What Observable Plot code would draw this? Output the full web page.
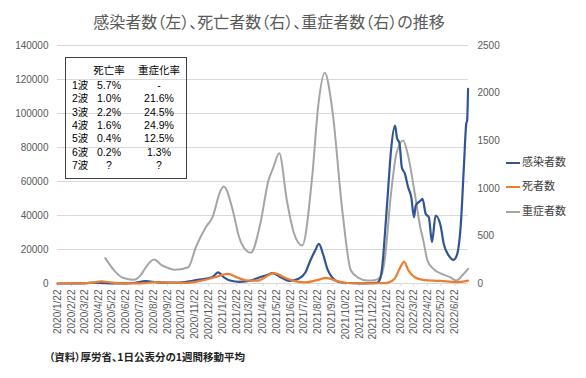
<!DOCTYPE html>
<html><head><meta charset="utf-8">
<script src="https://cdn.jsdelivr.net/npm/d3@7"></script>
<script src="https://cdn.jsdelivr.net/npm/@observablehq/plot@0.6"></script>
<style>
body{margin:0;background:#fff;}
#wrap{position:relative;width:586px;height:378px;overflow:hidden;font-family:"Noto Sans CJK JP","Liberation Sans",sans-serif;}
#title{position:absolute;left:8px;top:0;width:522px;height:42px;line-height:42px;text-align:center;font-size:16px;color:#595959;font-feature-settings:"palt";}
#chart{position:absolute;left:0;top:34px;}
#caption{position:absolute;left:49px;top:349px;font-size:10.5px;line-height:16px;color:#222;font-weight:bold;font-feature-settings:"palt";}
#table{position:absolute;left:65px;top:57px;width:120px;height:120px;border:1px solid #404040;font-family:"Liberation Sans","Noto Sans CJK JP",sans-serif;font-size:10.5px;color:#000;}
#table div{position:absolute;white-space:nowrap;line-height:11px;height:11px;overflow:visible;}
#legend{position:absolute;left:506px;top:0;font-size:11px;color:#404040;}
#legend .item{position:absolute;left:0;white-space:nowrap;line-height:14px;height:14px;}
#legend .sw{display:inline-block;width:14px;vertical-align:middle;margin-right:2px;}
</style></head>
<body>
<div id="wrap">
  <div id="title">感染者数（左）、死亡者数（右）、重症者数（右）の推移</div>
  <div id="chart"></div>
  <div id="table"></div>
  <div id="legend"></div>
  <div id="caption">（資料）厚労省、1日公表分の1週間移動平均</div>
</div>
<script>
// ---- data ----
const infDates = ["2020-01-22","2020-03-01","2020-03-25","2020-04-12","2020-05-05","2020-05-25","2020-06-20","2020-07-10","2020-08-05","2020-08-30","2020-09-25","2020-10-20","2020-11-10","2020-11-28","2020-12-20","2021-01-01","2021-01-12","2021-01-26","2021-02-10","2021-02-28","2021-03-15","2021-03-28","2021-04-15","2021-05-01","2021-05-13","2021-05-31","2021-06-20","2021-07-10","2021-07-25","2021-08-05","2021-08-16","2021-08-24","2021-09-02","2021-09-12","2021-09-22","2021-10-05","2021-10-25","2021-12-01","2021-12-31","2022-01-06","2022-01-13","2022-01-17","2022-01-24","2022-01-31","2022-02-09","2022-02-13","2022-02-19","2022-02-24","2022-03-03","2022-03-10","2022-03-17","2022-03-23","2022-03-27","2022-04-07","2022-04-11","2022-04-18","2022-04-25","2022-05-02","2022-05-10","2022-05-21","2022-05-28","2022-06-08","2022-06-19","2022-06-26","2022-07-05","2022-07-12","2022-07-17","2022-07-19","2022-07-21"];
const infValues = [0,20,150,550,200,40,60,300,1350,700,500,600,1200,2200,3000,4000,6600,3500,1600,1000,1200,1900,3700,5000,6100,3700,1500,2800,6500,13500,19500,23300,17500,8500,3700,1000,300,120,400,2000,13500,27200,52800,78200,92900,86000,82200,68400,64500,56600,50800,39000,45900,48800,49800,41000,39000,24300,40000,34100,23400,16500,13900,16500,35100,70000,94000,96000,114500];

const deathDates = ["2020-01-22","2020-03-15","2020-04-10","2020-04-28","2020-05-20","2020-06-15","2020-07-25","2020-08-25","2020-09-25","2020-10-25","2020-11-20","2020-12-20","2021-01-15","2021-02-03","2021-02-25","2021-03-20","2021-04-10","2021-05-16","2021-06-10","2021-07-01","2021-07-25","2021-08-20","2021-09-10","2021-09-30","2021-10-20","2021-11-20","2022-01-10","2022-01-25","2022-02-08","2022-02-19","2022-03-01","2022-03-11","2022-03-25","2022-04-15","2022-05-20","2022-06-25","2022-07-21"];
const deathValues = [0,2,10,22,10,2,2,14,8,6,15,45,80,102,60,30,30,108,60,25,12,35,60,30,8,2,3,10,49,154,228,136,66,35,28,14,31];

const severeDates = ["2020-05-07","2020-05-27","2020-06-15","2020-07-09","2020-07-25","2020-08-05","2020-08-23","2020-09-10","2020-09-25","2020-10-07","2020-10-27","2020-11-08","2020-11-24","2020-12-16","2020-12-31","2021-01-18","2021-01-25","2021-02-14","2021-02-28","2021-03-15","2021-03-26","2021-04-16","2021-05-04","2021-05-15","2021-05-28","2021-06-14","2021-06-29","2021-07-18","2021-08-09","2021-08-23","2021-09-06","2021-09-23","2021-10-15","2021-11-03","2021-11-20","2021-12-09","2021-12-25","2022-01-07","2022-01-16","2022-01-31","2022-02-12","2022-02-27","2022-03-09","2022-03-25","2022-04-06","2022-04-12","2022-04-22","2022-05-05","2022-05-23","2022-06-11","2022-06-25","2022-07-08","2022-07-21"];
const severeValues = [266,136,60,39,90,170,252,190,160,144,155,175,381,591,697,977,1019,767,486,350,322,627,1081,1220,1368,871,539,399,1116,1887,2215,1817,767,137,60,32,35,66,210,942,1362,1502,1362,942,591,469,241,154,102,66,31,84,154];

const leftTicks = [0,20000,40000,60000,80000,100000,120000,140000];
const rightTicks = [0,500,1000,1500,2000,2500];
const monthLabels = ["2020/1/22","2020/2/22","2020/3/22","2020/4/22","2020/5/22","2020/6/22","2020/7/22","2020/8/22","2020/9/22","2020/10/22","2020/11/22","2020/12/22","2021/1/22","2021/2/22","2021/3/22","2021/4/22","2021/5/22","2021/6/22","2021/7/22","2021/8/22","2021/9/22","2021/10/22","2021/11/22","2021/12/22","2022/1/22","2022/2/22","2022/3/22","2022/4/22","2022/5/22","2022/6/22"];

const seriesNames = ["感染者数","死者数","重症者数"];
const seriesColors = ["#2f5597","#ed7d31","#a5a5a5"];

const waves = ["1波","2波","3波","4波","5波","6波","7波"];
const deathRates = ["5.7%","1.0%","2.2%","1.6%","0.4%","0.2%","?"];
const severeRates = ["-","21.6%","24.5%","24.9%","12.5%","1.3%","?"];
const tableHeaders = ["死亡率","重症化率"];

// ---- build ----
const parse = d3.utcParse("%Y-%m-%d");
const parseLabel = d3.utcParse("%Y/%m/%d");
const R = 140000 / 2500;
const inf = infDates.map((d,i)=>({date:parse(d), v:infValues[i]}));
const death = deathDates.map((d,i)=>({date:parse(d), v:deathValues[i]*R}));
const severe = severeDates.map((d,i)=>({date:parse(d), v:severeValues[i]*R}));
const monthTicks = monthLabels.map(s=>parseLabel(s));
const labelOf = new Map(monthTicks.map((d,i)=>[+d, monthLabels[i]]));

const chart = Plot.plot({
  width:586, height:316,
  marginLeft:57, marginRight:118, marginTop:11, marginBottom:67,
  style:{fontFamily:"'Liberation Sans', Arial, sans-serif", fontSize:"10px", color:"#595959", background:"transparent"},
  x:{type:"utc", domain:[parse("2020-01-22"), parse("2022-07-22")]},
  y:{domain:[0,140000]},
  marks:[
    Plot.gridY(leftTicks.slice(1), {stroke:"#d9d9d9", strokeOpacity:1}),
    Plot.ruleY([0], {stroke:"#d9d9d9"}),
    Plot.axisY(leftTicks, {anchor:"left", tickSize:0, tickPadding:9, fill:"#595959", tickFormat:d=>String(d), label:null}),
    Plot.axisY(rightTicks.map(v=>v*R), {anchor:"right", tickSize:0, tickPadding:9, fill:"#595959", tickFormat:d=>String(Math.round(d/R)), label:null}),
    Plot.axisX(monthTicks, {anchor:"bottom", tickRotate:-90, tickSize:3, tickPadding:3, stroke:"#d9d9d9", fill:"#595959", fontSize:10, tickFormat:d=>labelOf.get(+d), label:null}),
    Plot.line(severe, {x:"date", y:"v", stroke:seriesColors[2], strokeWidth:2, curve:"monotone-x"}),
    Plot.line(inf, {x:"date", y:"v", stroke:seriesColors[0], strokeWidth:2.2, curve:"monotone-x"}),
    Plot.line(death, {x:"date", y:"v", stroke:seriesColors[1], strokeWidth:2.2, curve:"monotone-x"})
  ]
});
document.getElementById("chart").appendChild(chart);

// table
const tbl = document.getElementById("table");
const add = (txt, left, top, center) => {
  const el = document.createElement("div");
  el.textContent = txt;
  el.style.top = top + "px";
  if (center) { el.style.left = (left - 26) + "px"; el.style.width = "52px"; el.style.textAlign = "center"; }
  else el.style.left = left + "px";
  tbl.appendChild(el);
};
const colDeath = 108 - 65, colSevere = 158 - 65;
add(tableHeaders[0], colDeath, 70 - 57 - 6, true);
add(tableHeaders[1], colSevere, 70 - 57 - 6, true);
waves.forEach((w,i)=>{
  const top = 85 + i*13.3 - 57 - 6;
  add(w, 6, top, false);
  add(deathRates[i], colDeath, top, true);
  add(severeRates[i], colSevere, top, true);
});

// legend
const lg = document.getElementById("legend");
const ys = [161,185,210];
seriesNames.forEach((n,i)=>{
  const it = document.createElement("div");
  it.className = "item";
  it.style.top = (ys[i]-7) + "px";
  const sw = document.createElement("span");
  sw.className = "sw";
  sw.style.borderTop = (i===2?2:2.5) + "px solid " + seriesColors[i];
  it.appendChild(sw);
  it.appendChild(document.createTextNode(n));
  lg.appendChild(it);
});
</script>
</body></html>
